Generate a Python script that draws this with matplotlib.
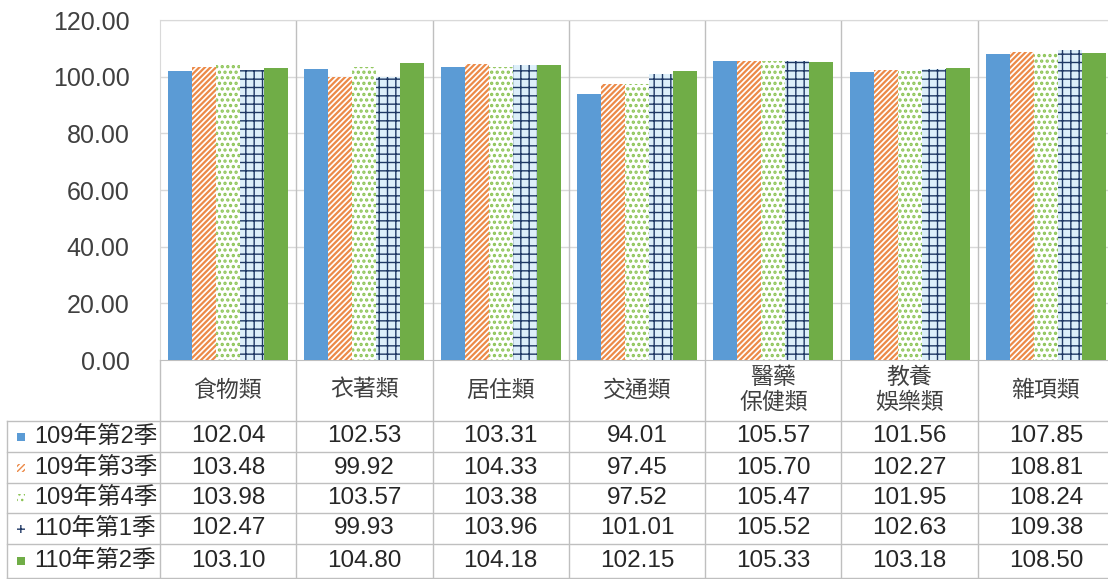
import matplotlib
matplotlib.use("Agg")
import matplotlib.pyplot as plt
from matplotlib.patches import Rectangle
import numpy as np

plt.rcParams['font.family'] = ['Liberation Sans', 'Noto Sans CJK TC']

# data
categories = ['食物類', '衣著類', '居住類', '交通類', '醫藥\n保健類', '教養\n娛樂類', '雜項類']
series = ['109年第2季', '109年第3季', '109年第4季', '110年第1季', '110年第2季']
q109_2 = [102.04, 102.53, 103.31, 94.01, 105.57, 101.56, 107.85]
q109_3 = [103.48, 99.92, 104.33, 97.45, 105.70, 102.27, 108.81]
q109_4 = [103.98, 103.57, 103.38, 97.52, 105.47, 101.95, 108.24]
q110_1 = [102.47, 99.93, 103.96, 101.01, 105.52, 102.63, 109.38]
q110_2 = [103.10, 104.80, 104.18, 102.15, 105.33, 103.18, 108.50]
values = [q109_2, q109_3, q109_4, q110_1, q110_2]
yticks = [0, 20, 40, 60, 80, 100, 120]

# style per series: facecolor, hatch colour, hatch, hatch linewidth
styles = [
    ('#5B9BD5', '#5B9BD5', None, 1.0),
    ('white', '#EC8A48', '//////', 1.6),
    ('white', '#8CC456', '...', 1.6),
    ('#DDEFFA', '#1F3864', '++', 1.0),
    ('#70AD47', '#70AD47', None, 1.0),
]

W, H = 1108, 579
fig = plt.figure(figsize=(W / 100, H / 100), dpi=100)

# pixel layout
left, right, top, bottom = 160, 1114, 20, 360
ax = fig.add_axes([left / W, 1 - bottom / H, (right - left) / W, (bottom - top) / H])

ncat = len(categories)
x = np.arange(ncat) + 0.5
bw = 0.176
for i, (vals, (fc, hc, hatch, hlw)) in enumerate(zip(values, styles)):
    with plt.rc_context({'hatch.linewidth': hlw}):
        ax.bar(x + (i - 2) * bw, vals, bw, color=fc, edgecolor=hc,
               hatch=hatch, linewidth=0, zorder=3)

ax.set_xlim(0, ncat)
ax.set_ylim(0, 120)
ax.set_yticks(yticks)
ax.set_yticklabels([f'{v:.2f}' for v in yticks], fontsize=18, color='#404040')
ax.set_xticks([])
ax.tick_params(axis='y', length=0, pad=22)
for v in yticks[1:]:
    ax.axhline(v, color='#D9D9D9', lw=1, zorder=1)
for k in range(1, ncat):
    ax.axvline(k, color='#BFBFBF', lw=1, zorder=1)
for s in ['top', 'right', 'left']:
    ax.spines[s].set_color('#D9D9D9')
ax.spines['bottom'].set_color('#BFBFBF')

# table drawn on an overlay in pixel coordinates
ov = fig.add_axes([0, 0, 1, 1], zorder=-1)
ov.set_xlim(0, W)
ov.set_ylim(H, 0)
ov.axis('off')

lc = '#BFBFBF'
col_w = (right - left) / ncat
row_y = [421, 452, 483, 513, 544, 578]
leg_x = 7

# header row
for k, cat in enumerate(categories):
    cx = left + (k + 0.5) * col_w
    ov.text(cx, 390, cat, ha='center', va='center', fontsize=16.5,
            color='#404040', linespacing=1.15)

# grid lines
for yy in row_y:
    ov.plot([leg_x, W], [yy, yy], color=lc, lw=1)
ov.plot([leg_x, leg_x], [row_y[0], row_y[-1]], color=lc, lw=1)
for k in range(ncat):
    xx = left + k * col_w
    ov.plot([xx, xx], [bottom, row_y[-1]], color=lc, lw=1)

# data rows
for r, (name, vals, (fc, hc, hatch, hlw)) in enumerate(zip(series, values, styles)):
    cy = (row_y[r] + row_y[r + 1]) / 2
    with plt.rc_context({'hatch.linewidth': 1.0}):
        ov.add_patch(Rectangle((17, cy - 4), 8, 8, facecolor=fc if fc != '#DDEFFA' else 'white',
                               edgecolor=hc, hatch=hatch, linewidth=0))
    ov.text(34, cy, name, ha='left', va='center', fontsize=17, color='#262626')
    for k, v in enumerate(vals):
        cx = left + (k + 0.5) * col_w
        ov.text(cx, cy, f'{v:.2f}', ha='center', va='center', fontsize=17.5, color='#262626')

fig.savefig('out.png', dpi=100)
